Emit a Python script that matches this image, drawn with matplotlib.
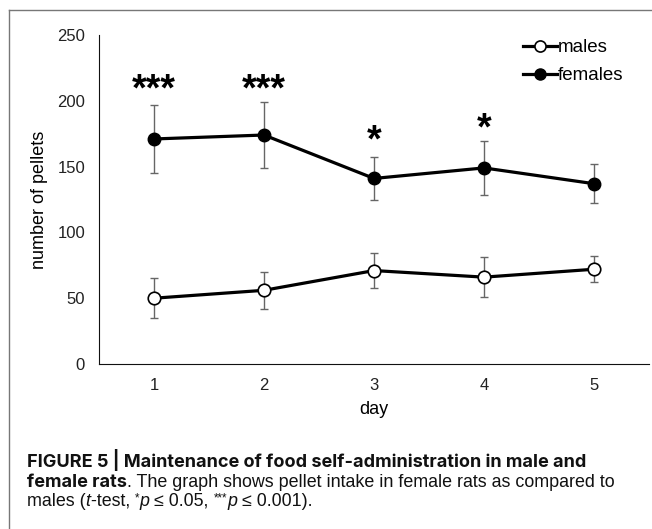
import matplotlib.pyplot as plt
from matplotlib.lines import Line2D
from matplotlib import font_manager

days = [1, 2, 3, 4, 5]
males = [50, 56, 71, 66, 72]
males_err = [15, 14, 13.5, 15, 10]
females = [171, 174, 141, 149, 137]
females_err = [25.5, 25, 16.5, 20.5, 15]
stars = ['***', '***', '*', '*', '']
star_y = [208, 208, 169, 178, 0]

plt.rcParams['font.family'] = ['Liberation Sans', 'DejaVu Sans']

W, H = 652, 529
fig = plt.figure(figsize=(6.52, 5.29), dpi=100)
ax = fig.add_axes([99 / W, 1 - 364 / H, 550 / W, 329 / H])

# error bars under the lines
for vals, errs in [(females, females_err), (males, males_err)]:
    ax.errorbar(days, vals, yerr=errs, fmt='none', ecolor='#666666',
                elinewidth=1, capsize=2.6, capthick=1, zorder=1)
ax.plot(days, males, color='black', lw=2.3, marker='o', ms=9,
        mfc='white', mec='black', mew=1.2, zorder=3)
ax.plot(days, females, color='black', lw=2.3, marker='o', ms=9,
        mfc='black', mec='black', zorder=3)

for d, s, y in zip(days, stars, star_y):
    if s:
        ax.text(d, y, s, ha='center', va='center', fontsize=27,
                fontweight='bold')

ax.set_xlim(0.5, 5.5)
ax.set_ylim(0, 250)
ax.set_xticks(days)
ax.set_yticks(range(0, 251, 50))
ax.tick_params(length=0, labelsize=12, pad=10, colors='#222222')
ax.spines['top'].set_visible(False)
ax.spines['right'].set_visible(False)
ax.spines['left'].set_color('#111111')
ax.spines['bottom'].set_color('#111111')
ax.set_xlabel('day', fontsize=13, labelpad=6)
ax.set_ylabel('number of pellets', fontsize=13, labelpad=7)

handles = [Line2D([], [], color='black', lw=2.3, marker='o', ms=8,
                  mfc='white', mec='black', mew=1.2),
           Line2D([], [], color='black', lw=2.3, marker='o', ms=8,
                  mfc='black', mec='black')]
fig.legend(handles, ['males', 'females'], loc='upper left', frameon=False,
           fontsize=13.5, handlelength=1.8, handletextpad=0.05,
           labelspacing=0.6, borderpad=0, borderaxespad=0,
           bbox_to_anchor=(523 / W, 1 - 39 / H))

# figure frame
fig.add_artist(Line2D([9 / W, 9 / W], [0, 1 - 10 / H], color='#777777', lw=1))
fig.add_artist(Line2D([9 / W, 1], [1 - 10 / H, 1 - 10 / H], color='#777777', lw=1))

# caption: bold runs in Inter, body text in Liberation Sans
installed = {f.name for f in font_manager.fontManager.ttflist}
bold_font = 'Inter' if 'Inter' in installed else 'Liberation Sans'
body_font = 'Liberation Sans'

# (text, weight, style, superscript)
lines = [
    [('FIGURE 5 | Maintenance of food self-administration in male and', 'bold', 'normal', False)],
    [('female rats', 'bold', 'normal', False),
     ('. The graph shows pellet intake in female rats as compared to', 'normal', 'normal', False)],
    [('males (', 'normal', 'normal', False), ('t', 'normal', 'italic', False),
     ('-test, ', 'normal', 'normal', False), ('*', 'normal', 'normal', True),
     ('p', 'normal', 'italic', False),
     (' \u2264 0.05, ', 'normal', 'normal', False), ('***', 'normal', 'normal', True),
     ('p', 'normal', 'italic', False),
     (' \u2264 0.001).', 'normal', 'normal', False)],
]
baselines = [467, 487, 506]
x0 = 27

fig.canvas.draw()
renderer = fig.canvas.get_renderer()

def width(txt, wt, size):
    fam = bold_font if wt == 'bold' else body_font
    t = fig.text(0, 0, txt, fontsize=size, fontweight=wt,
                 family=[fam, 'DejaVu Sans'])
    w = t.get_window_extent(renderer).width
    t.remove()
    return w

# bold size from line 1, body size from the rest of line 2
bold_size = 14 * (587 - x0) / width(lines[0][0][0], 'bold', 14)
rest = (618 - x0) - width(lines[1][0][0], 'bold', bold_size)
body_size = 14 * rest / width(lines[1][1][0], 'normal', 14)

for pieces, yy in zip(lines, baselines):
    x = x0
    for txt, wt, st, sup in pieces:
        fam = bold_font if wt == 'bold' else body_font
        size = bold_size if wt == 'bold' else body_size
        y = yy
        if sup:
            size *= 0.65
            y -= 5
        t = fig.text(x / W, 1 - y / H, txt, fontsize=size, fontweight=wt,
                     fontstyle=st, family=[fam, 'DejaVu Sans'],
                     va='baseline', ha='left', color='#111111')
        x += t.get_window_extent(renderer).width

fig.savefig('out.png', dpi=100)
